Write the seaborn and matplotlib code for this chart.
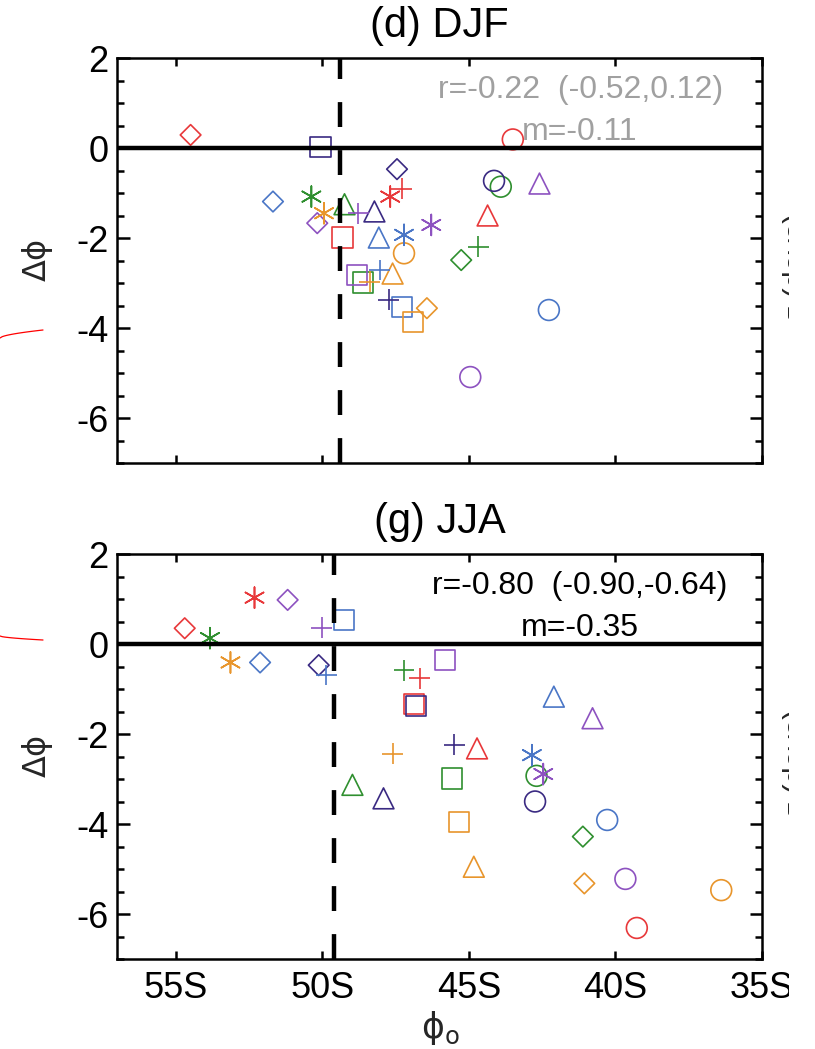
import numpy as np
import pandas as pd
import matplotlib
matplotlib.use("Agg")
import matplotlib.pyplot as plt
import seaborn as sns
from matplotlib.lines import Line2D
from matplotlib.patches import Rectangle
from matplotlib.ticker import MultipleLocator

# ---------------- data ----------------
model_color = (["red"] * 6 + ["blue"] * 6 + ["green"] * 6 + ["purple"] * 6
               + ["indigo"] * 5 + ["orange"] * 6)
model_marker = (["D", "s", "o", "^", "*", "+"] * 4
                + ["D", "s", "o", "^", "+"]
                + ["D", "s", "o", "^", "*", "+"])

djf_lat = [54.49, 49.31, 43.50, 44.36, 47.68, 47.29,
           51.68, 47.29, 42.27, 48.07, 47.21, 48.04,
           45.26, 48.61, 43.91, 49.24, 50.37, 44.67,
           50.17, 48.82, 44.95, 42.59, 46.28, 48.77,
           47.45, 50.06, 44.14, 48.22, 47.73,
           46.43, 46.90, 47.21, 47.60, 49.94, 48.38]
djf_dphi = [0.29, -1.99, 0.19, -1.50, -1.08, -0.90,
            -1.19, -3.53, -3.60, -1.99, -1.93, -2.71,
            -2.49, -2.99, -0.86, -1.25, -1.08, -2.19,
            -1.67, -2.82, -5.09, -0.79, -1.71, -1.45,
            -0.47, 0.02, -0.73, -1.41, -3.37,
            -3.56, -3.86, -2.34, -2.79, -1.45, -2.97]

jja_lat = [54.69, 46.87, 39.27, 44.72, 52.31, 46.67,
           52.12, 49.27, 40.28, 42.10, 42.85, 49.86,
           41.11, 45.58, 42.69, 48.97, 53.83, 47.21,
           51.18, 45.81, 39.66, 40.78, 42.46, 50.02,
           50.12, 46.80, 42.74, 47.91, 45.50,
           41.06, 45.34, 36.39, 44.83, 53.13, 47.60]
jja_dphi = [0.35, -1.33, -6.31, -2.32, 1.03, -0.76,
            -0.41, 0.53, -3.91, -1.17, -2.47, -0.69,
            -4.28, -2.99, -2.93, -3.13, 0.13, -0.58,
            0.98, -0.36, -5.22, -1.65, -2.89, 0.36,
            -0.47, -1.37, -3.50, -3.43, -2.24,
            -5.32, -3.95, -5.47, -4.95, -0.41, -2.44]

x_ticks = [55, 50, 45, 40, 35]
x_ticklabels = ["55S", "50S", "45S", "40S", "35S"]
y_ticks = [-6, -4, -2, 0, 2]
panel_titles = ["(d) DJF", "(g) JJA"]
panel_r = ["r=-0.22  (-0.52,0.12)", "r=-0.80  (-0.90,-0.64)"]
panel_m = ["m=-0.11", "m=-0.35"]
panel_text_color = ["#a0a0a0", "black"]
jet_lat = [49.4, 49.6]   # dashed reference latitude

palette = {"red": "#e8383a", "blue": "#4a76c6", "green": "#2f8f2f",
           "purple": "#8d52c0", "indigo": "#3a2a82", "orange": "#e8952c"}
marker_style = {"D": ("D", 10.5), "s": ("s", 14.5), "o": ("o", 15.0),
                "^": ("^", 15.0), "*": ((6, 2, 0), 15.0), "+": ("+", 15.0)}

# ---------------- style ----------------
sns.set_theme(style="ticks")
plt.rcParams["font.family"] = ["Liberation Sans", "DejaVu Sans"]
plt.rcParams["mathtext.fontset"] = "dejavusans"
plt.rcParams["axes.unicode_minus"] = False

fig = plt.figure(figsize=(8.15, 10.49), dpi=100)
W_PX, H_PX = 815.0, 1049.0
left, width = 117 / W_PX, 645 / W_PX
height = 405 / H_PX
ax_top = fig.add_axes([left, 1 - 463 / H_PX, width, height])
ax_bot = fig.add_axes([left, 1 - 959 / H_PX, width, height])

panels = [(ax_top, djf_lat, djf_dphi), (ax_bot, jja_lat, jja_dphi)]

for i, (ax, lat, dphi) in enumerate(panels):
    df = pd.DataFrame({"lat": lat, "dphi": dphi,
                       "color": model_color, "marker": model_marker})
    for mk, (mstyle, msize) in marker_style.items():
        sub = df[df["marker"] == mk]
        if sub.empty:
            continue
        n_before = len(ax.collections)
        sns.scatterplot(data=sub, x="lat", y="dphi", hue="color",
                        palette=palette, marker=mstyle, s=msize ** 2,
                        linewidth=1.2, legend=False, ax=ax, zorder=2)
        for coll in ax.collections[n_before:]:
            cols = [palette[c] for c in sub["color"]]
            coll.set_edgecolors(cols)
            coll.set_facecolors("none")
            coll.set_linewidths(1.2)

    ax.axhline(0, color="black", lw=3.2, zorder=3)
    ax.plot([jet_lat[i], jet_lat[i]], [-7, 2], color="black", lw=3.2,
            linestyle=(0, (5.6, 5.2)), zorder=3, solid_capstyle="butt")

    ax.set_xlim(57, 35)
    ax.set_ylim(-7, 2)
    ax.set_xticks(x_ticks)
    ax.set_yticks(y_ticks)
    ax.set_yticklabels([str(v) for v in y_ticks])
    ax.yaxis.set_minor_locator(MultipleLocator(0.5))
    ax.tick_params(axis="both", which="both", direction="in", top=True,
                   right=True, width=1.8, colors="black", labelsize=26)
    ax.tick_params(axis="x", which="major", length=6, pad=9)
    ax.tick_params(axis="x", which="minor", length=0)
    ax.tick_params(axis="y", which="major", length=9, pad=6)
    ax.tick_params(axis="y", which="minor", length=5)
    for sp in ax.spines.values():
        sp.set_linewidth(1.8)
        sp.set_color("black")
        sp.set_visible(True)
    ax.set_xlabel("")
    ax.set_ylabel("")
    if i == 0:
        ax.tick_params(axis="x", labelbottom=False)
    else:
        ax.set_xticklabels(x_ticklabels)

    ax.set_title(panel_titles[i], fontsize=30, pad=15, color="black")
    ax.text(0.718, 0.922, panel_r[i], transform=ax.transAxes, ha="center",
            va="center", fontsize=23, color=panel_text_color[i])
    ax.text(0.718, 0.818, panel_m[i], transform=ax.transAxes, ha="center",
            va="center", fontsize=23, color=panel_text_color[i])
    ax.text(-0.124, 0.5, r"$\Delta\mathrm{\phi}$", transform=ax.transAxes,
            rotation=90, ha="center", va="center", fontsize=23)

fig.text(440 / W_PX, 1 - 1028 / H_PX, r"$\mathrm{\phi}_\mathrm{o}$",
         ha="center", va="center", fontsize=25)

# partial neighbouring-panel elements at the figure edges
for y0, y1 in [(338, 330), (636, 640)]:
    xs = np.linspace(0, 43, 20)
    ys = y0 + (y1 - y0) * (xs / 43.0) ** 0.6
    fig.add_artist(Line2D(xs / W_PX, 1 - ys / H_PX, color="red", lw=0.9,
                          transform=fig.transFigure))
for yc in [265, 761]:
    fig.text(798 / W_PX, 1 - yc / H_PX, "τ (days)", rotation=90,
             ha="center", va="center", fontsize=22)
fig.add_artist(Rectangle((789 / W_PX, 0), 1, 1, transform=fig.transFigure,
                         facecolor="white", edgecolor="none", zorder=20))

fig.savefig("out.png", dpi=100, facecolor="white")
